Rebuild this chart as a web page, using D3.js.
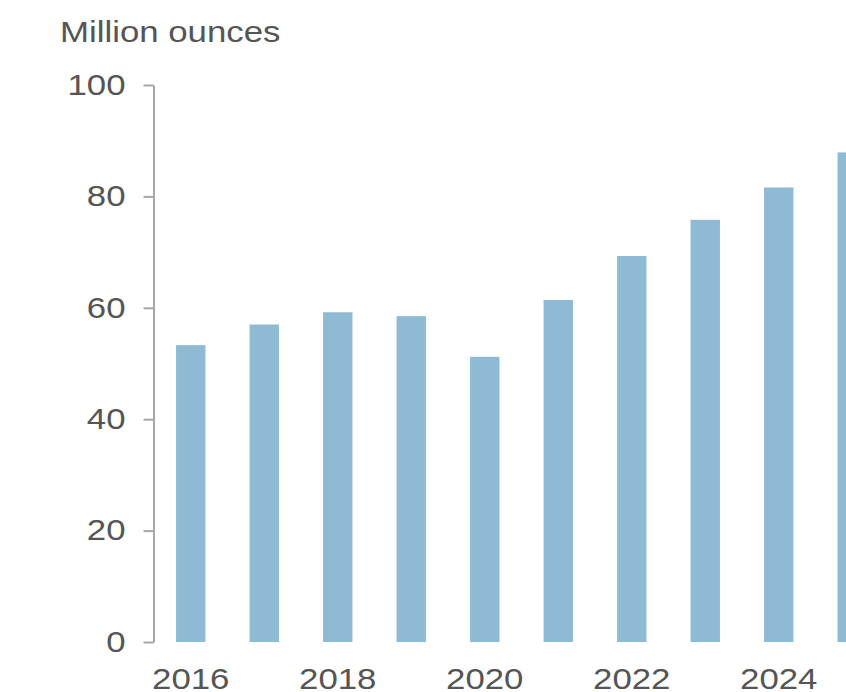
<!DOCTYPE html>
<html>
<head>
<meta charset="utf-8">
<script src="https://cdn.jsdelivr.net/npm/d3@7"></script>
<style>
  html, body { margin: 0; padding: 0; background: #ffffff; overflow: hidden; }
  svg { display: block; }
  text { font-family: "Liberation Sans", Arial, sans-serif; fill: #555555; }
</style>
</head>
<body>
<svg id="chart" width="846" height="692"></svg>
<script>
const years = ["2016","2017","2018","2019","2020","2021","2022","2023","2024","2025"];
const values = [53.3, 57.0, 59.2, 58.5, 51.2, 61.4, 69.3, 75.8, 81.6, 87.9];
const yTicks = [0, 20, 40, 60, 80, 100];
const xLabels = ["2016","2018","2020","2022","2024"];
const unitLabel = "Million ounces";

const svg = d3.select("#chart");
const SX = 1.2; // horizontal stretch of text glyphs

const x = d3.scaleBand().domain(years).range([154, 889]).paddingInner(0.6).paddingOuter(0.3);
const y = d3.scaleLinear().domain([0, 100]).range([642, 85]);

// bars
svg.append("g").selectAll("rect").data(years).join("rect")
  .attr("x", d => x(d))
  .attr("width", x.bandwidth())
  .attr("y", (d, i) => y(values[i]))
  .attr("height", (d, i) => y(0) - y(values[i]))
  .attr("fill", "#8fbad3");

// y axis
const yAxis = svg.append("g").attr("transform", "translate(153.5,0)")
  .call(d3.axisLeft(y).tickValues(yTicks).tickSize(10).tickSizeOuter(0).tickPadding(18));
yAxis.select(".domain").attr("stroke", "#a6a6a6").attr("stroke-width", 2);
yAxis.selectAll(".tick line").attr("stroke", "#a6a6a6").attr("stroke-width", 2);
yAxis.selectAll(".tick text")
  .attr("font-size", 29)
  .attr("font-family", "Liberation Sans, Arial, sans-serif")
  .attr("fill", "#555555")
  .attr("x", -28 / SX)
  .attr("transform", `scale(${SX},1)`);

// x labels
const xAxis = svg.append("g").attr("transform", "translate(0,642)")
  .call(d3.axisBottom(x).tickValues(xLabels).tickSize(0).tickPadding(26));
xAxis.select(".domain").remove();
xAxis.selectAll(".tick text")
  .attr("font-size", 29)
  .attr("font-family", "Liberation Sans, Arial, sans-serif")
  .attr("fill", "#555555")
  .attr("transform", `scale(${SX},1)`);
// compensate tick group translation for scaled text
xAxis.selectAll(".tick").each(function(d) {
  const cx = x(d) + x.bandwidth() / 2;
  d3.select(this).attr("transform", `translate(${cx},0)`);
});

// unit label
svg.append("text")
  .attr("transform", `translate(60,42) scale(${SX},1)`)
  .attr("font-size", 29)
  .text(unitLabel);
</script>
</body>
</html>
